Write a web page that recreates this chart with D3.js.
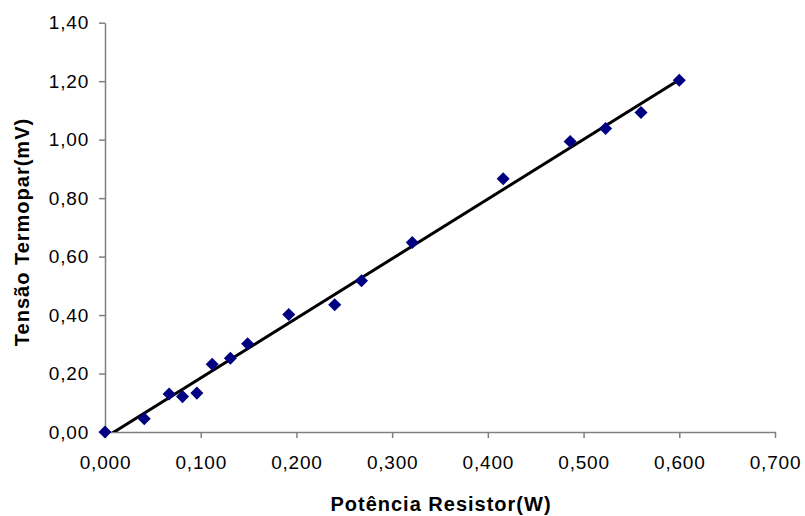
<!DOCTYPE html>
<html>
<head>
  <meta charset="utf-8">
  <script src="https://d3js.org/d3.v7.min.js"></script>
  <style>
  body { margin:0; background:#fff; }
  .axis text { font-family: "Liberation Sans", Arial, sans-serif; font-size: 19px; letter-spacing: 0.8px; fill:#000; }
  .axis path, .axis line { stroke: #808080; stroke-width: 1.5px; }
  .title { font-family: "Liberation Sans", Arial, sans-serif; font-size: 20px; font-weight: bold; letter-spacing: 1px; }
  </style>
</head>
<body>
<script>
  // potência (W) e tensão (mV)
  var potencia = [0.000, 0.041, 0.067, 0.081, 0.096, 0.112, 0.131, 0.149, 0.192, 0.240, 0.268, 0.321, 0.416, 0.486, 0.523, 0.560, 0.600];
  var tensao   = [0.000, 0.045, 0.130, 0.121, 0.133, 0.232, 0.252, 0.302, 0.402, 0.435, 0.517, 0.648, 0.866, 0.994, 1.038, 1.093, 1.203];
  var xTicks = [0, 0.1, 0.2, 0.3, 0.4, 0.5, 0.6, 0.7];
  var yTicks = [0, 0.2, 0.4, 0.6, 0.8, 1.0, 1.2, 1.4];

  var W = 805, H = 516;
  var svg = d3.select("body").append("svg").attr("width", W).attr("height", H);

  var x = d3.scaleLinear().domain([0, 0.7]).range([105, 775]);
  var y = d3.scaleLinear().domain([0, 1.4]).range([432, 22.7]);

  var fmtX = v => d3.format(".3f")(v).replace(".", ",");
  var fmtY = v => d3.format(".2f")(v).replace(".", ",");

  svg.append("defs").append("clipPath").attr("id", "plot")
    .append("rect").attr("x", 105).attr("y", 22.7).attr("width", 670).attr("height", 432 - 22.7);

  svg.append("g").attr("class", "x axis")
    .attr("transform", "translate(0,432)")
    .call(d3.axisBottom(x).tickValues(xTicks).tickFormat(fmtX).tickSizeInner(6).tickSizeOuter(0).tickPadding(18));

  svg.append("g").attr("class", "y axis")
    .attr("transform", "translate(105,0)")
    .call(d3.axisLeft(y).tickValues(yTicks).tickFormat(fmtY).tickSizeInner(6).tickSizeOuter(0).tickPadding(10));

  // linha de tendência (mínimos quadrados)
  var mx = d3.mean(potencia), my = d3.mean(tensao);
  var sxy = d3.sum(potencia, (p, i) => (p - mx) * (tensao[i] - my));
  var sxx = d3.sum(potencia, p => (p - mx) * (p - mx));
  var b = sxy / sxx, a = my - b * mx;
  var ext = d3.extent(potencia);

  svg.append("line")
    .attr("clip-path", "url(#plot)")
    .attr("x1", x(ext[0])).attr("y1", y(a + b * ext[0]))
    .attr("x2", x(ext[1])).attr("y2", y(a + b * ext[1]))
    .attr("stroke", "#000").attr("stroke-width", 3);

  var sym = d3.symbol().type(d3.symbolSquare).size(85);
  svg.selectAll(".pt")
    .data(potencia.map((p, i) => [p, tensao[i]]))
    .enter().append("path")
    .attr("class", "pt")
    .attr("d", sym)
    .attr("fill", "#000080")
    .attr("transform", d => "translate(" + x(d[0]) + "," + y(d[1]) + ") rotate(45)");

  svg.append("text").attr("class", "title")
    .attr("x", 441).attr("y", 511).attr("text-anchor", "middle")
    .text("Potência Resistor(W)");

  svg.append("text").attr("class", "title")
    .attr("transform", "translate(29,232) rotate(-90)").attr("text-anchor", "middle")
    .text("Tensão Termopar(mV)");
</script>
</body>
</html>
